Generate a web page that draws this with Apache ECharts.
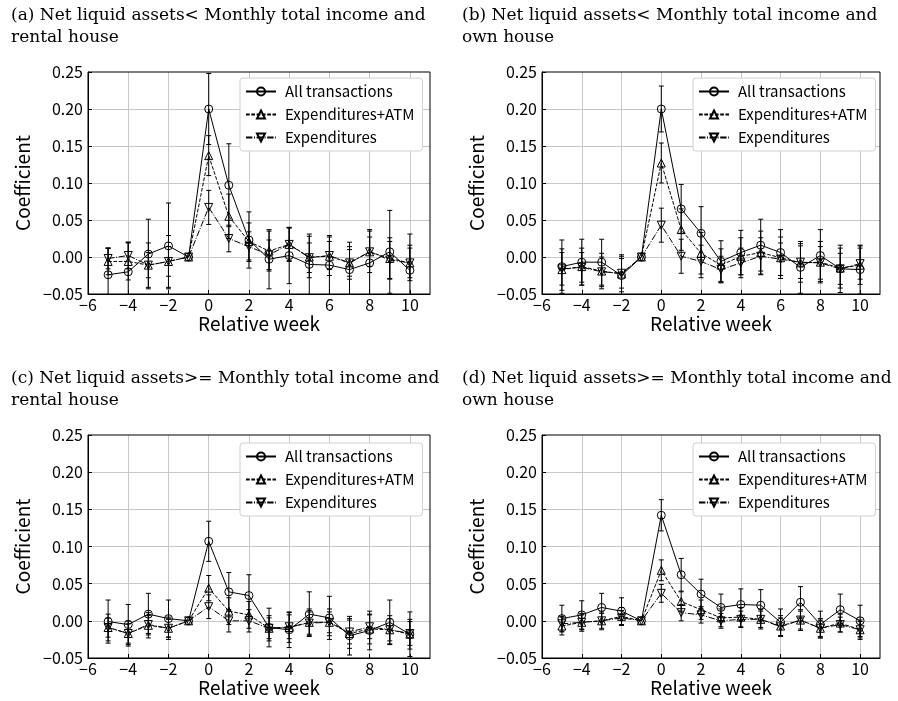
<!DOCTYPE html>
<html><head><meta charset="utf-8">
<script src="https://cdn.jsdelivr.net/npm/echarts@6/dist/echarts.min.js"></script>
<style>html,body{margin:0;padding:0;background:#fff}#c{width:898px;height:701px}</style>
</head><body><div id="c"></div><script>
const weeks = [-5,-4,-3,-2,-1,0,1,2,3,4,5,6,7,8,9,10];
const seriesNames = ['All transactions','Expenditures+ATM','Expenditures'];
const titles = [
  '(a) Net liquid assets< Monthly total income and\nrental house',
  '(b) Net liquid assets< Monthly total income and\nown house',
  '(c) Net liquid assets>= Monthly total income and\nrental house',
  '(d) Net liquid assets>= Monthly total income and\nown house'
];
const yTicks = [-0.05,0,0.05,0.10,0.15,0.20,0.25];
const xTicks = [-6,-4,-2,0,2,4,6,8,10];

// (a)
const allA = [-0.024,-0.020,0.004,0.015,0,0.200,0.097,0.023,-0.003,0.002,-0.010,-0.011,-0.017,-0.008,0.007,-0.018];
const errAllA = [0.036,0.040,0.047,0.058,0,0.048,0.056,0.038,0.040,0.038,0.041,0.040,0.037,0.045,0.056,0.049];
const atmA = [-0.006,-0.006,-0.011,-0.006,0,0.137,0.055,0.021,0.008,0.017,0.000,0.001,-0.008,0.007,-0.002,-0.008];
const errAtmA = [0.018,0.025,0.030,0.035,0,0.027,0.030,0.025,0.027,0.022,0.028,0.026,0.022,0.028,0.028,0.024];
const expA = [-0.002,0.002,-0.011,-0.006,0,0.067,0.025,0.014,0.003,0.017,-0.001,0.002,-0.008,0.007,-0.004,-0.008];
const errExpA = [0.014,0.018,0.017,0.020,0,0.023,0.018,0.020,0.020,0.023,0.020,0.019,0.018,0.020,0.025,0.020];
// (b)
const allB = [-0.013,-0.007,-0.007,-0.025,0,0.200,0.065,0.032,-0.006,0.006,0.016,0.006,-0.014,0.002,-0.016,-0.017];
const errAllB = [0.036,0.031,0.031,0.028,0,0.031,0.033,0.036,0.028,0.030,0.035,0.031,0.035,0.035,0.032,0.033];
const atmB = [-0.017,-0.013,-0.019,-0.023,0,0.127,0.037,0.005,-0.011,0.001,0.006,-0.001,-0.008,-0.007,-0.015,-0.011];
const errAtmB = [0.028,0.025,0.024,0.024,0,0.027,0.028,0.028,0.022,0.025,0.029,0.028,0.026,0.028,0.027,0.026];
const expB = [-0.016,-0.014,-0.020,-0.022,0,0.043,0.001,-0.006,-0.017,-0.008,0.001,-0.003,-0.007,-0.008,-0.016,-0.009];
const errExpB = [0.022,0.020,0.020,0.020,0,0.023,0.023,0.022,0.018,0.020,0.025,0.022,0.022,0.022,0.021,0.021];
// (c)
const allC = [-0.001,-0.005,0.009,0.003,0,0.107,0.039,0.034,-0.009,-0.012,0.009,0.004,-0.020,-0.013,-0.002,-0.018];
const errAllC = [0.029,0.027,0.028,0.025,0,0.027,0.026,0.028,0.026,0.024,0.030,0.029,0.026,0.026,0.030,0.030];
const atmC = [-0.009,-0.017,-0.006,-0.010,0,0.044,0.013,0.008,-0.010,-0.009,-0.002,-0.002,-0.017,-0.011,-0.012,-0.018];
const errAtmC = [0.018,0.017,0.017,0.015,0,0.017,0.018,0.018,0.017,0.020,0.018,0.018,0.020,0.020,0.019,0.020];
const expC = [-0.009,-0.017,-0.005,-0.010,0,0.019,0.000,0.000,-0.010,-0.008,-0.003,-0.002,-0.015,-0.008,-0.012,-0.017];
const errExpC = [0.013,0.013,0.012,0.012,0,0.016,0.015,0.015,0.014,0.016,0.015,0.014,0.016,0.016,0.015,0.016];
// (d)
const allD = [0.003,0.008,0.018,0.013,0,0.142,0.062,0.036,0.018,0.022,0.021,-0.002,0.025,-0.005,0.015,0.000];
const errAllD = [0.018,0.019,0.019,0.018,0,0.021,0.022,0.020,0.018,0.021,0.021,0.018,0.021,0.018,0.021,0.021];
const atmD = [-0.007,-0.002,0.000,0.006,0,0.068,0.026,0.015,0.004,0.005,0.002,-0.007,0.001,-0.010,-0.003,-0.012];
const errAtmD = [0.012,0.012,0.012,0.012,0,0.014,0.013,0.013,0.012,0.013,0.013,0.014,0.014,0.013,0.012,0.013];
const expD = [-0.004,-0.002,0.000,0.004,0,0.037,0.011,0.008,0.000,0.002,0.002,-0.008,0.001,-0.010,-0.005,-0.012];
const errExpD = [0.010,0.010,0.010,0.010,0,0.012,0.011,0.011,0.010,0.011,0.011,0.012,0.012,0.011,0.010,0.011];

const panelData = [
  [[allA,errAllA],[atmA,errAtmA],[expA,errExpA]],
  [[allB,errAllB],[atmB,errAtmB],[expB,errExpB]],
  [[allC,errAllC],[atmC,errAtmC],[expC,errExpC]],
  [[allD,errAllD],[atmD,errAtmD],[expD,errExpD]]
];

const SANS = '"Noto Sans CJK JP", "Noto Sans", sans-serif';
const SERIF = '"DejaVu Serif", "Liberation Serif", serif';
const gridPos = [
  {left:88, top:72, width:342, height:222},
  {left:542, top:72, width:338, height:222},
  {left:88, top:435, width:342, height:223},
  {left:542, top:435, width:338, height:223}
];
const titlePos = [{left:6,top:0},{left:457,top:0},{left:6,top:363},{left:457,top:363}];
const legendPos = [{left:240,top:78},{left:693,top:78},{left:240,top:443},{left:693,top:443}];
const lineTypes = ['solid',[3.7,1.6],[6.4,1.6,1,1.6]];
const symbols = ['circle','triangle','triangle'];
const rot = [0,0,180];

const fmtNum = (v, d) => (v < -1e-9 ? '\u2212' : '') + Math.abs(v).toFixed(d);

function errRender(params, api) {
  const x = api.value(0), lo = api.value(1), hi = api.value(2);
  if (hi - lo < 1e-9) return null;
  const t = api.coord([x, hi]), b = api.coord([x, lo]);
  const cs = params.coordSys;
  const cw = 2.5;
  const st = {stroke:'#000', lineWidth:1};
  return {
    type:'group',
    clipPath:{type:'rect', shape:{x:cs.x, y:cs.y, width:cs.width, height:cs.height}},
    children:[
      {type:'line', shape:{x1:t[0],y1:t[1],x2:b[0],y2:b[1]}, style:st},
      {type:'line', shape:{x1:t[0]-cw,y1:t[1],x2:t[0]+cw,y2:t[1]}, style:st},
      {type:'line', shape:{x1:b[0]-cw,y1:b[1],x2:b[0]+cw,y2:b[1]}, style:st}
    ]
  };
}

const option = {
  animation:false,
  backgroundColor:'#fff',
  title: titles.map((t,i)=>({text:t, left:titlePos[i].left, top:titlePos[i].top,
    textStyle:{fontFamily:SERIF, fontSize:17, fontWeight:'normal', color:'#000', lineHeight:22}})),
  grid: gridPos.map(g=>Object.assign({show:true, borderColor:'#000', borderWidth:1, backgroundColor:'transparent', z:5}, g)),
  legend: legendPos.map(p=>({
    left:p.left, top:p.top, orient:'vertical', data:seriesNames,
    itemWidth:30, itemHeight:10, itemGap:8,
    padding:[6,8,6,5], backgroundColor:'#fff', borderColor:'#d0d0d0', borderWidth:1, borderRadius:3,
    textStyle:{fontFamily:SANS, fontSize:15, color:'#000', padding:[0,0,0,4]},
    selectedMode:false
  })),
  xAxis: gridPos.map((g,i)=>({
    type:'value', gridIndex:i, min:-6, max:11, interval:2,
    name:'Relative week', nameLocation:'middle', nameGap:20,
    nameTextStyle:{fontFamily:SANS, fontSize:19, color:'#000'},
    axisLine:{show:true, onZero:false, lineStyle:{color:'#000', width:1}},
    axisTick:{show:true, inside:true, length:4, lineStyle:{color:'#000'}},
    axisLabel:{fontFamily:SANS, fontSize:16, color:'#000', margin:3, showMaxLabel:false,
      formatter:v=> v>10 ? '' : fmtNum(v,0)},
    splitLine:{show:true, showMinLine:false, showMaxLine:false, lineStyle:{color:'#c8c8c8', width:1}}
  })),
  yAxis: gridPos.map((g,i)=>({
    type:'value', gridIndex:i, min:-0.05, max:0.25, interval:0.05,
    name:'Coefficient', nameLocation:'middle', nameGap:56,
    nameTextStyle:{fontFamily:SANS, fontSize:19, color:'#000'},
    axisLine:{show:true, onZero:false, lineStyle:{color:'#000', width:1}},
    axisTick:{show:true, inside:true, length:4, lineStyle:{color:'#000'}},
    axisLabel:{fontFamily:SANS, fontSize:16, color:'#000', margin:5, formatter:v=>fmtNum(v,2)},
    splitLine:{show:true, showMinLine:false, showMaxLine:false, lineStyle:{color:'#c8c8c8', width:1}}
  })),
  series: []
};

panelData.forEach((panel, pi) => {
  panel.forEach((pair, si) => {
    const vals = pair[0], errs = pair[1];
    option.series.push({
      type:'custom', xAxisIndex:pi, yAxisIndex:pi, renderItem:errRender, silent:true,
      encode:{x:0, y:[1,2]},
      data: weeks.map((w,k)=>[w, vals[k]-errs[k], vals[k]+errs[k]]),
      z:2
    });
    option.series.push({
      type:'line', name:seriesNames[si], xAxisIndex:pi, yAxisIndex:pi,
      data: weeks.map((w,k)=>[w, vals[k]]),
      symbol:symbols[si], symbolSize:8, symbolRotate:rot[si], showSymbol:true,
      lineStyle:{color:'#000', width:1, type:lineTypes[si]},
      itemStyle:{color:'rgba(255,255,255,0)', borderColor:'#000', borderWidth:1},
      z:3
    });
  });
});

const chart = echarts.init(document.getElementById('c'), null, {renderer:'canvas'});
chart.setOption(option);
</script></body></html>
